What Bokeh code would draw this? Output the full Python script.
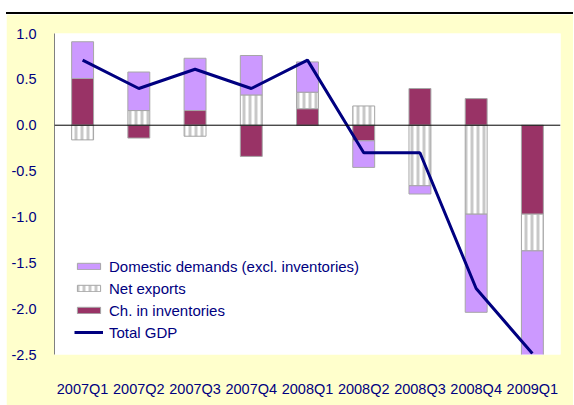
import numpy as np
from bokeh.plotting import figure
from bokeh.models import (FactorRange, Range1d, FixedTicker, NumeralTickFormatter,
                          Span, Legend, LegendItem, Div)
from bokeh.layouts import column
from bokeh.embed import file_html
from bokeh.resources import INLINE

quarters = ["2007Q1", "2007Q2", "2007Q3", "2007Q4", "2008Q1",
            "2008Q2", "2008Q3", "2008Q4", "2009Q1"]
inventories = [0.51, -0.14, 0.16, -0.34, 0.18, -0.17, 0.40, 0.29, -0.97]
net_exports = [-0.16, 0.16, -0.12, 0.33, 0.18, 0.21, -0.66, -0.97, -0.40]
domestic = [0.40, 0.42, 0.57, 0.43, 0.33, -0.29, -0.09, -1.07, -1.15]
total_gdp = [0.71, 0.40, 0.61, 0.40, 0.71, -0.30, -0.30, -1.78, -2.49]
y_ticks = [-2.5, -2.0, -1.5, -1.0, -0.5, 0.0, 0.5, 1.0]

FONT = "Liberation Sans"
NAVY = "#000080"
YELLOW = "#FFFFCC"

p = figure(x_range=FactorRange(*quarters), y_range=Range1d(-2.5, 1.0),
           width=567, height=391, output_backend="svg", toolbar_location=None,
           min_border_left=48, min_border_right=13, min_border_top=19,
           min_border_bottom=51, margin=(0, 0, 0, 6))
p.border_fill_color = YELLOW
p.background_fill_color = "white"
p.outline_line_color = None
p.xgrid.grid_line_color = None
p.ygrid.grid_line_color = None

# stacking (positives up, negatives down) in series order
series = [inventories, net_exports, domestic]
pos_base = np.zeros(len(quarters))
neg_base = np.zeros(len(quarters))
stacks = []
for s in series:
    s = np.array(s)
    bottom = np.where(s >= 0, pos_base, neg_base)
    top = bottom + s
    pos_base = np.where(s >= 0, top, pos_base)
    neg_base = np.where(s < 0, top, neg_base)
    stacks.append((bottom, top))

W = 0.39
OUT = "#A6A6A6"
r_inv = p.vbar(x=quarters, bottom=stacks[0][0], top=stacks[0][1], width=W,
               fill_color="#993366", line_color=OUT, line_width=1)
r_net = p.vbar(x=quarters, bottom=stacks[1][0], top=stacks[1][1], width=W,
               fill_color="white", line_color=OUT, line_width=1,
               hatch_pattern="vertical_line", hatch_color="#C8C8C8",
               hatch_scale=6, hatch_weight=3)
r_dom = p.vbar(x=quarters, bottom=stacks[2][0], top=stacks[2][1], width=W,
               fill_color="#CC99FF", line_color=OUT, line_width=1)

p.add_layout(Span(location=0, dimension="width", line_color="black", line_width=1))

r_gdp = p.line(x=quarters, y=total_gdp, line_color=NAVY, line_width=3)

p.yaxis.ticker = FixedTicker(ticks=y_ticks)
p.yaxis.formatter = NumeralTickFormatter(format="0.0")
for ax in (p.xaxis, p.yaxis):
    ax.major_label_text_font = FONT
    ax.major_label_text_font_size = "14.5px"
    ax.major_label_text_color = NAVY
    ax.major_tick_line_color = None
    ax.minor_tick_line_color = None
p.yaxis.axis_line_color = "#808080"
p.yaxis.major_label_standoff = 12
p.xaxis.axis_line_color = None
p.xaxis.major_label_standoff = 20

legend = Legend(items=[
    LegendItem(label="Domestic demands (excl. inventories)", renderers=[r_dom]),
    LegendItem(label="Net exports", renderers=[r_net]),
    LegendItem(label="Ch. in inventories", renderers=[r_inv]),
    LegendItem(label="Total GDP", renderers=[r_gdp]),
], location=(20, 13))
legend.label_text_font = FONT
legend.label_text_font_size = "15px"
legend.label_text_color = NAVY
legend.glyph_width = 29
legend.glyph_height = 8
legend.label_height = 18
legend.spacing = 4
legend.padding = 0
legend.margin = 0
legend.label_standoff = 6
legend.background_fill_alpha = 0
legend.border_line_color = None
p.add_layout(legend)

topline = Div(text="", width=567, height=2, margin=(12, 0, 0, 6),
              styles={"background-color": "black"})
layout = column(topline, p, spacing=0)

open("out.html", "w").write(file_html(layout, INLINE))
